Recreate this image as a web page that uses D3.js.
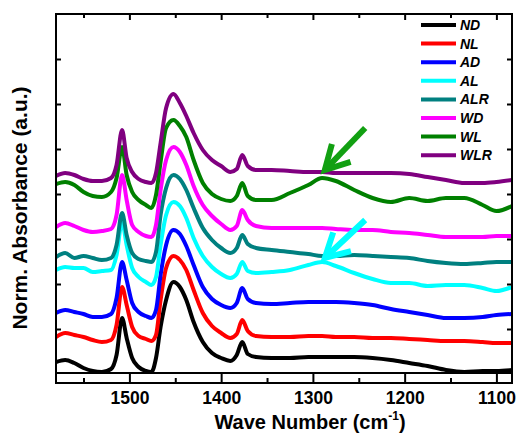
<!DOCTYPE html>
<html><head><meta charset="utf-8">
<script src="https://cdn.jsdelivr.net/npm/d3@7"></script>
<style>body{margin:0;background:#fff}svg{display:block;font-family:"Liberation Sans",Arial,sans-serif}</style>
</head><body><svg id="c" width="517" height="435"></svg>
<script>
// ---- data ----
const waveNumbers = [1580,1570,1560,1550,1540,1530,1520,1514,1508,1503,1497,1490,1482,1476,1471,1466,1460,1452,1445,1438,1430,1420,1410,1400,1390,1383,1377,1371,1362,1345,1325,1305,1290,1275,1255,1235,1215,1195,1175,1155,1135,1115,1100,1083];
const seriesNames = ["ND","NL","AD","AL","ALR","WD","WL","WLR"];
const seriesColors = ["#000000","#ff0000","#0000ff","#00ffff","#008080","#ff00ff","#008000","#800080"];
const ND  = [0.12,0.14,0.11,0.06,0.03,0.02,0.05,0.19,0.56,0.36,0.16,0.07,0.03,0.02,0.16,0.47,0.74,0.92,0.87,0.74,0.52,0.32,0.21,0.16,0.13,0.19,0.32,0.20,0.17,0.16,0.16,0.17,0.17,0.17,0.17,0.16,0.14,0.11,0.08,0.04,0.02,0.03,0.03,0.04];
const NL  = [0.37,0.41,0.39,0.37,0.34,0.32,0.34,0.49,0.87,0.69,0.47,0.38,0.35,0.33,0.39,0.74,1.06,1.18,1.14,1.04,0.84,0.61,0.48,0.41,0.36,0.40,0.54,0.43,0.38,0.37,0.37,0.38,0.38,0.37,0.37,0.36,0.36,0.35,0.34,0.33,0.33,0.32,0.31,0.31];
const AD  = [0.61,0.64,0.62,0.60,0.57,0.57,0.60,0.76,1.12,0.94,0.71,0.62,0.58,0.56,0.64,0.99,1.29,1.44,1.40,1.28,1.09,0.87,0.75,0.69,0.66,0.71,0.86,0.75,0.71,0.70,0.71,0.72,0.72,0.72,0.71,0.69,0.65,0.62,0.59,0.56,0.56,0.57,0.59,0.60];
const AL  = [1.04,1.07,1.06,1.06,1.02,1.03,1.04,1.19,1.52,1.29,1.06,0.97,0.92,0.89,0.97,1.29,1.59,1.72,1.68,1.56,1.36,1.18,1.07,1.00,0.96,1.00,1.12,1.03,1.01,1.02,1.04,1.09,1.12,1.08,1.01,0.95,0.91,0.91,0.88,0.89,0.89,0.86,0.83,0.87];
const ALR = [1.17,1.21,1.16,1.18,1.16,1.14,1.16,1.29,1.61,1.39,1.21,1.15,1.13,1.12,1.22,1.59,1.86,1.99,1.95,1.84,1.66,1.46,1.34,1.26,1.21,1.26,1.39,1.30,1.26,1.24,1.22,1.20,1.18,1.18,1.19,1.18,1.17,1.16,1.13,1.11,1.10,1.11,1.12,1.12];
const WD  = [1.47,1.51,1.48,1.44,1.42,1.43,1.45,1.59,1.99,1.74,1.49,1.42,1.38,1.37,1.49,1.84,2.14,2.27,2.22,2.09,1.88,1.69,1.58,1.50,1.44,1.48,1.64,1.54,1.48,1.46,1.46,1.46,1.46,1.45,1.44,1.44,1.42,1.41,1.39,1.37,1.37,1.37,1.38,1.38];
const WL  = [1.90,1.92,1.89,1.82,1.78,1.77,1.82,1.96,2.27,1.99,1.82,1.74,1.69,1.66,1.79,2.12,2.46,2.54,2.48,2.37,2.14,1.91,1.80,1.75,1.73,1.78,1.91,1.78,1.74,1.74,1.81,1.89,1.96,1.93,1.84,1.76,1.72,1.76,1.73,1.76,1.76,1.69,1.63,1.68];
const WLR = [1.98,2.01,1.99,1.95,1.93,1.93,1.96,2.09,2.44,2.16,2.02,1.95,1.92,1.91,2.01,2.31,2.66,2.80,2.71,2.58,2.41,2.24,2.14,2.08,2.02,2.05,2.19,2.08,2.04,2.04,2.03,2.02,2.02,2.01,2.01,2.01,2.01,2.00,1.97,1.94,1.91,1.91,1.92,1.94];
const seriesValues = [ND, NL, AD, AL, ALR, WD, WL, WLR];
const xMajorTicks = [1500,1400,1300,1200,1100];
const xMinorTicks = [1550,1450,1350,1250,1150];
const yTicks = [0.45,0.9,1.35,1.8,2.25,2.7,3.15];
const arrowColors = ["#12a012","#00ffff"];
const arrowFrom = [[1243,2.46],[1243,1.54]];
const arrowTo = [[1287,2.04],[1287,1.16]];

// ---- chart ----
const svg = d3.select("#c");
const x = d3.scaleLinear().domain([1580,1083]).range([56,512]);
const y = d3.scaleLinear().domain([0,3.6]).range([374,14]);

svg.append("defs").append("clipPath").attr("id","clip")
  .append("rect").attr("x",56).attr("y",14).attr("width",456).attr("height",359);

const line = d3.line().x((d,i)=>x(waveNumbers[i])).y(d=>y(d)).curve(d3.curveMonotoneX);
const gl = svg.append("g").attr("clip-path","url(#clip)");
seriesValues.forEach((vals,k)=>{
  gl.append("path").attr("d",line(vals)).attr("fill","none")
    .attr("stroke",seriesColors[k]).attr("stroke-width",4)
    .attr("stroke-linejoin","round").attr("stroke-linecap","round");
});

function styleAxis(g){
  g.select(".domain").remove();
  g.selectAll(".tick line").attr("stroke","#000").attr("stroke-width",2);
  g.selectAll("text").attr("fill","#000").attr("font-size","17.5px").attr("font-weight","bold")
    .attr("font-family","'Liberation Sans',Arial,sans-serif");
}
svg.append("g").attr("transform","translate(0,383)")
  .call(d3.axisBottom(x).tickValues(xMajorTicks).tickSize(-10).tickPadding(9).tickFormat(d3.format("d"))).call(styleAxis);
svg.append("g").attr("transform","translate(0,383)")
  .call(d3.axisBottom(x).tickValues(xMinorTicks).tickSize(-5).tickFormat("")).call(styleAxis);
svg.append("g").attr("transform","translate(0,14)")
  .call(d3.axisTop(x).tickValues(xMajorTicks).tickSize(-6).tickFormat("")).call(styleAxis);
svg.append("g").attr("transform","translate(0,14)")
  .call(d3.axisTop(x).tickValues(xMinorTicks).tickSize(-4).tickFormat("")).call(styleAxis);
svg.append("g").attr("transform","translate(56,0)")
  .call(d3.axisLeft(y).tickValues(yTicks).tickSize(-5).tickFormat("")).call(styleAxis);
svg.append("g").attr("transform","translate(512,0)")
  .call(d3.axisRight(y).tickValues(yTicks).tickSize(-5).tickFormat("")).call(styleAxis);

// frame
svg.append("rect").attr("x",56).attr("y",14).attr("width",456).attr("height",369)
  .attr("fill","none").attr("stroke","#000").attr("stroke-width",2);
svg.append("line").attr("x1",56).attr("x2",512).attr("y1",373).attr("y2",373)
  .attr("stroke","#000").attr("stroke-width",2);

// arrows
arrowFrom.forEach((f,k)=>{
  const tx=x(arrowTo[k][0]), ty=y(arrowTo[k][1]), fx=x(f[0]), fy=y(f[1]);
  const a=Math.atan2(fy-ty,fx-tx), L=27, s=0.5;
  svg.append("line").attr("x1",fx).attr("y1",fy).attr("x2",tx).attr("y2",ty)
    .attr("stroke",arrowColors[k]).attr("stroke-width",6);
  svg.append("path").attr("d",`M${tx+L*Math.cos(a-s)},${ty+L*Math.sin(a-s)}L${tx},${ty}L${tx+L*Math.cos(a+s)},${ty+L*Math.sin(a+s)}`)
    .attr("fill","none").attr("stroke",arrowColors[k]).attr("stroke-width",6).attr("stroke-linejoin","miter");
});

// legend
const lg = svg.append("g");
seriesNames.forEach((n,k)=>{
  const yy = 25 + k*18.6;
  lg.append("line").attr("x1",421).attr("x2",456).attr("y1",yy).attr("y2",yy)
    .attr("stroke",seriesColors[k]).attr("stroke-width",4);
  lg.append("text").attr("x",460).attr("y",yy).attr("dy","0.36em").text(n)
    .attr("font-size","14px").attr("font-weight","bold").attr("font-style","italic").attr("fill","#000");
});

// axis titles
const xt = svg.append("text").attr("x",310).attr("y",429).attr("text-anchor","middle")
  .attr("font-size","20px").attr("font-weight","bold").attr("fill","#000");
xt.append("tspan").text("Wave Number (cm");
xt.append("tspan").attr("font-size","12px").attr("dy",-9).text("-1");
xt.append("tspan").attr("dy",9).text(")");
svg.append("text").attr("transform","translate(27,208) rotate(-90)").attr("text-anchor","middle")
  .attr("font-size","21px").attr("font-weight","bold").attr("fill","#000").text("Norm. Absorbance (a.u.)");
</script></body></html>
